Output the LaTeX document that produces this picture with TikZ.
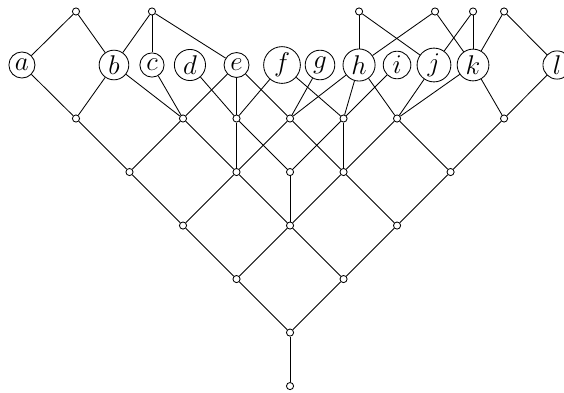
\documentclass[tikz,border=0pt]{standalone}
\begin{document}
\begin{tikzpicture}[
  dot/.style={circle,draw,fill=white,inner sep=0pt,minimum size=3.8pt},
  lab/.style={circle,draw,fill=white,inner sep=1.5pt,font=\Large},
  every path/.style={line width=0.45pt}]
\useasboundingbox (-5.42,-0.112) rectangle (5.12,7.215);
% top row
\node[dot] (t1) at (-4,7) {};
\node[dot] (t2) at (-2.58,7) {};
\node[dot] (t3) at (1.29,7) {};
\node[dot] (t4) at (2.71,7) {};
\node[dot] (t5) at (3.42,7) {};
\node[dot] (t6) at (4,7) {};
% labelled row
\node[lab] (a) at (-5.01,6) {$a$};
\node[lab] (b) at (-3.29,6) {$b$};
\node[lab] (c) at (-2.58,6) {$c$};
\node[lab] (d) at (-1.87,6) {$d$};
\node[lab] (e) at (-1,6) {$e$};
\node[lab] (f) at (-0.15,6) {$f$};
\node[lab] (g) at (0.56,6) {$g$};
\node[lab] (h) at (1.29,6) {$h$};
\node[lab] (i) at (2,6) {$i$};
\node[lab] (j) at (2.69,6) {$j$};
\node[lab] (k) at (3.42,6) {$k$};
\node[lab] (l) at (4.99,6) {$l$};
% row 5
\node[dot] (r5m4) at (-4,5) {};
\node[dot] (r5m2) at (-2,5) {};
\node[dot] (r5m1) at (-1,5) {};
\node[dot] (r50) at (0,5) {};
\node[dot] (r51) at (1,5) {};
\node[dot] (r52) at (2,5) {};
\node[dot] (r54) at (4,5) {};
% row 4
\node[dot] (r4m3) at (-3,4) {};
\node[dot] (r4m1) at (-1,4) {};
\node[dot] (r40) at (0,4) {};
\node[dot] (r41) at (1,4) {};
\node[dot] (r43) at (3,4) {};
% row 3
\node[dot] (r3m2) at (-2,3) {};
\node[dot] (r30) at (0,3) {};
\node[dot] (r32) at (2,3) {};
% row 2,1,0
\node[dot] (r2m1) at (-1,2) {};
\node[dot] (r21) at (1,2) {};
\node[dot] (r10) at (0,1) {};
\node[dot] (r00) at (0,0) {};
% edges
\draw (t1) -- (a); \draw (t1) -- (b);
\draw (t2) -- (b); \draw (t2) -- (c); \draw (t2) -- (e);
\draw (t3) -- (h); \draw (t3) -- (j);
\draw (t4) -- (h); \draw (t4) -- (k);
\draw (t5) -- (j); \draw (t5) -- (k);
\draw (t6) -- (k); \draw (t6) -- (l);
\draw (a) -- (r5m4);
\draw (b) -- (r5m4); \draw (b) -- (r5m2);
\draw (c) -- (r5m2);
\draw (d) -- (r5m1);
\draw (e) -- (r5m2); \draw (e) -- (r5m1); \draw (e) -- (r50);
\draw (f) -- (r5m1); \draw (f) -- (r51);
\draw (g) -- (r50);
\draw (h) -- (r50); \draw (h) -- (r51); \draw (h) -- (r52);
\draw (i) -- (r51);
\draw (j) -- (r52);
\draw (k) -- (r52); \draw (k) -- (r54);
\draw (l) -- (r54);
\draw (r5m4) -- (r4m3);
\draw (r5m2) -- (r4m3); \draw (r5m2) -- (r4m1);
\draw (r5m1) -- (r4m1); \draw (r5m1) -- (r40);
\draw (r50) -- (r4m1); \draw (r50) -- (r41);
\draw (r51) -- (r40); \draw (r51) -- (r41);
\draw (r52) -- (r41); \draw (r52) -- (r43);
\draw (r54) -- (r43);
\draw (r4m3) -- (r3m2);
\draw (r4m1) -- (r3m2); \draw (r4m1) -- (r30);
\draw (r40) -- (r30);
\draw (r41) -- (r30); \draw (r41) -- (r32);
\draw (r43) -- (r32);
\draw (r3m2) -- (r2m1);
\draw (r30) -- (r2m1); \draw (r30) -- (r21);
\draw (r32) -- (r21);
\draw (r2m1) -- (r10); \draw (r21) -- (r10);
\draw (r10) -- (r00);
\end{tikzpicture}
\end{document}
